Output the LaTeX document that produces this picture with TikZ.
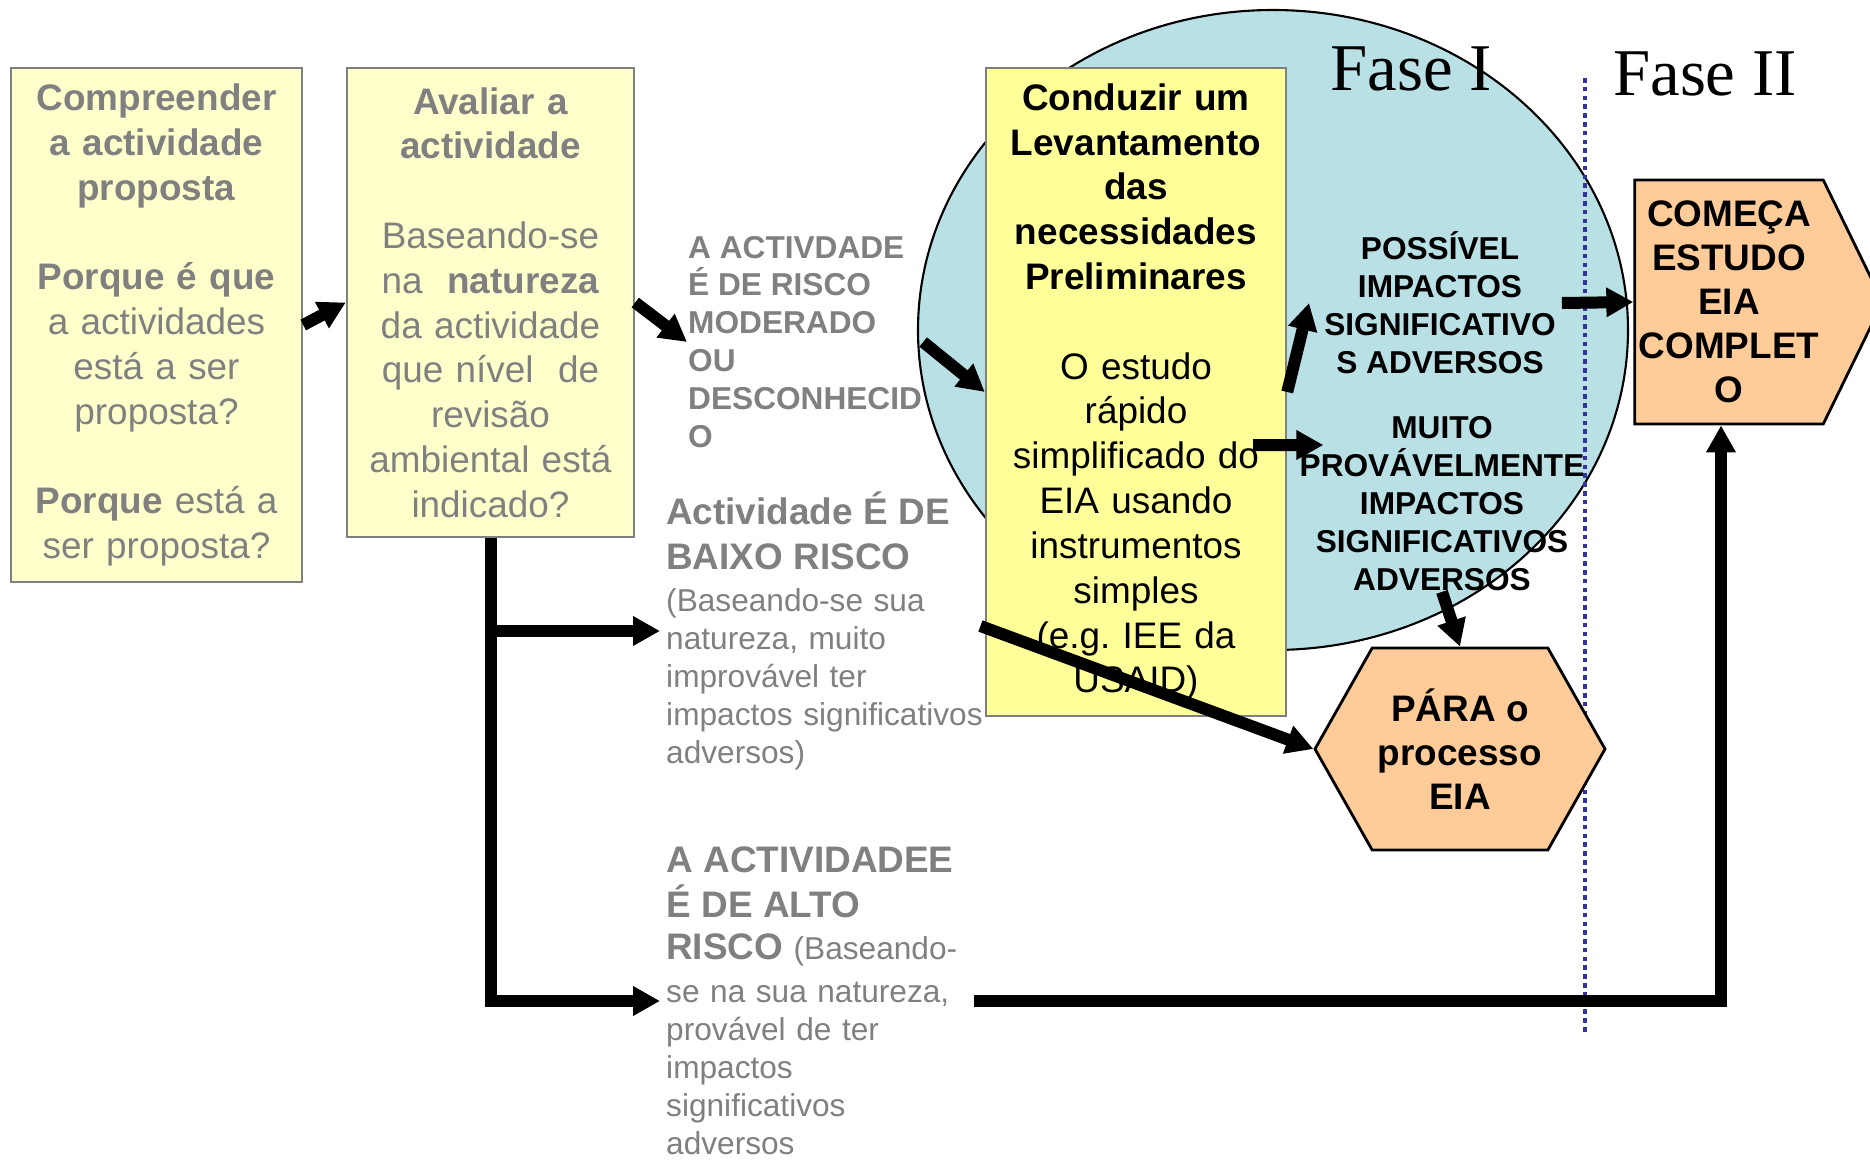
\documentclass[tikz,border=0pt]{standalone}
\usepackage{fontspec}
\setmainfont{Liberation Sans}
\newfontfamily\fasefont{Liberation Serif}
\usepackage{xcolor}
\usepackage{tikz}
\usetikzlibrary{arrows.meta,shapes.symbols}

\definecolor{amarelo}{RGB}{255,255,204}
\definecolor{amareloforte}{RGB}{255,255,153}
\definecolor{azulfase}{RGB}{185,224,228}
\definecolor{laranja}{RGB}{255,204,153}
\definecolor{cinza}{RGB}{128,128,128}
\definecolor{pontos}{RGB}{51,51,153}
\frenchspacing

\begin{document}
\begin{tikzpicture}[-{Triangle[length=0.27cm,width=0.28cm]}, line width=0.12cm]
\useasboundingbox (0,0) rectangle (18.7,11.59);
\tikzstyle{every node} = [inner sep=0pt, line width=0.7pt, font=\fontsize{10.5}{12.75}\selectfont]
\tikzstyle{box} = [draw=cinza, fill=amarelo, text=cinza, align=center]
\tikzstyle{hexa} = [draw=black, fill=laranja, line width=0.8pt, signal, align=center, font=\fontsize{10.5}{12.5}\selectfont\bfseries]
\draw[-, fill=azulfase, line width=0.6pt] (12.73,8.29) ellipse (3.55 and 3.20);
\node[font=\fasefont\fontsize{19}{22}\selectfont] (f1) at (14.11,10.90) {Fase I};
\node[font=\fasefont\fontsize{19}{22}\selectfont] (f2) at (17.05,10.85) {Fase II};
\draw[-, pontos, line width=1.3pt, dash pattern=on 1.3pt off 1.2pt] (15.85,10.81) -- (15.85,1.27);
\node[box, text width=2.75cm, minimum width=2.91cm, minimum height=5.14cm] (1) at (1.565,8.34)
  {\textbf{Compreender}\\ \textbf{a actividade}\\ \textbf{proposta}\\[12.75pt]
   \textbf{Porque é que}\\ a actividades\\ está a ser\\ proposta?\\[12.75pt]
   \textbf{Porque} está a\\ ser proposta?};
\node[box, text width=2.75cm, minimum width=2.87cm, minimum height=4.69cm] (2) at (4.905,8.565)
  {\textbf{Avaliar a}\\ \textbf{actividade}\\[12.75pt]
   Baseando-se\\ na\ \ \textbf{natureza}\\ da actividade\\ que nível\ \ de\\ revisão\\ ambiental está\\ indicado?};
\node[anchor=west, text=cinza, align=left, font=\fontsize{9}{10.8}\selectfont\bfseries] (3) at (6.87,8.17)
  {A ACTIVDADE\\ É DE RISCO\\ MODERADO\\ OU\\ DESCONHECID\\ O};
\node[anchor=west, text=cinza, text width=3.3cm, align=left, font=\fontsize{9}{10.8}\selectfont] (4) at (6.65,5.28)
  {{\fontsize{10.5}{12.6}\selectfont\bfseries Actividade É DE\\ BAIXO RISCO\\ \mdseries\fontsize{9}{12}\selectfont (Baseando-se sua\\}natureza, muito\\ improvável ter\\ impactos significativos\\ adversos)};
\node[anchor=west, text=cinza, text width=3.05cm, align=left, font=\fontsize{9}{10.8}\selectfont] (5) at (6.65,1.58)
  {{\fontsize{10.5}{12.6}\selectfont\bfseries A ACTIVIDADEE\\ É DE ALTO\\ RISCO \mdseries\fontsize{9}{12.2}\selectfont(Baseando-\\ se na sua natureza,\\}provável de ter\\ impactos\\ significativos\\ adversos};
\node[box, fill=amareloforte, text=black, text width=2.85cm, minimum width=3.0cm, minimum height=6.48cm] (6) at (11.36,7.67)
  {\textbf{Conduzir um}\\ \textbf{Levantamento}\\ \textbf{das}\\ \textbf{necessidades}\\ \textbf{Preliminares}\\[12.75pt]
   O estudo\\ rápido\\ simplificado do\\ EIA usando\\ instrumentos\\ simples\\ (e.g. IEE da\\ USAID)};
\node[align=center, font=\fontsize{9}{10.8}\selectfont\bfseries] (7) at (14.40,8.56)
  {POSSÍVEL\\ IMPACTOS\\ SIGNIFICATIVO\\ S ADVERSOS};
\node[align=center, font=\fontsize{9}{10.8}\selectfont\bfseries] (8) at (14.42,6.555)
  {MUITO\\ PROVÁVELMENTE\\ IMPACTOS\\ SIGNIFICATIVOS\\ ADVERSOS};
\node[hexa, signal to=west and east, signal pointer angle=121, minimum width=2.90cm, minimum height=2.02cm] (9) at (14.60,4.10)
  {PÁRA o\\ processo\\ EIA};
\node[hexa, signal to=east, signal pointer angle=128, minimum width=2.48cm, minimum height=2.44cm] (10) at (17.29,8.57)
  {COMEÇA\\ ESTUDO\\ EIA\\ COMPLET\\ O};
\draw (1.east) -- (2.west);
\draw (2.east) -- (3.west);
\draw (3.east) -- (6.west);
\draw (6.east) -- ([xshift=-0.14cm]7.west);
\draw ([xshift=-0.34cm,yshift=-0.53cm]6.east) -- ([xshift=0.25cm,yshift=0.585cm]8.west);
\draw (8.south) -- (9.north);
\draw ([xshift=-0.17cm,yshift=0.05cm]4.east) -- (9.west);
\draw ([xshift=0.05cm]7.east) -- (10.west);
\draw (2.south) |- ([xshift=-0.05cm]5.west);
\draw (2.south |- 4.west) -- ([xshift=-0.05cm]4.west);
\draw ([xshift=0.02cm]5.east) -| ([xshift=-0.08cm]10.south);
\end{tikzpicture}
\end{document}
